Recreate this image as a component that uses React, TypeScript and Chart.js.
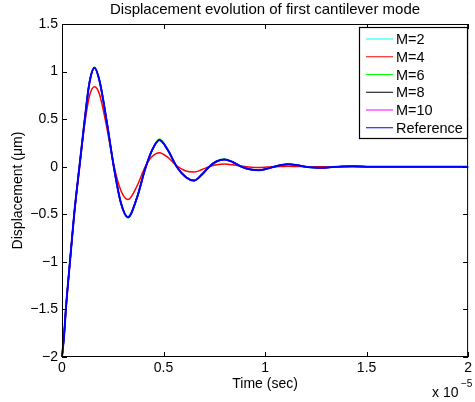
import React, { useEffect, useRef } from "react";
import { Chart, registerables } from "chart.js";

Chart.register(...registerables);

// time in units of 1e-5 s
const timeValues = [0, 0.01, 0.02, 0.04, 0.06, 0.09, 0.11, 0.135, 0.16, 0.185, 0.22, 0.255, 0.29, 0.325, 0.37, 0.41, 0.445, 0.48, 0.52, 0.565, 0.61, 0.65, 0.69, 0.725, 0.76, 0.8, 0.84, 0.885, 0.93, 0.97, 1.01, 1.045, 1.08, 1.115, 1.16, 1.2, 1.24, 1.28, 1.32, 1.36, 1.43, 1.52, 1.6, 1.8, 2.0];

const referenceValues = [-2, -1.78, -1.47, -0.98, -0.5, 0.08, 0.46, 0.88, 1.04, 0.9, 0.48, 0.0, -0.38, -0.53, -0.32, -0.02, 0.18, 0.28, 0.18, 0.0, -0.11, -0.145, -0.08, 0.0, 0.055, 0.077, 0.05, 0.0, -0.03, -0.037, -0.02, 0.0, 0.018, 0.025, 0.015, 0.0, -0.008, -0.01, -0.005, 0.0, 0.004, 0.0, 0.0, 0.0, 0.0];

const m2Values = [-2, -1.78, -1.47, -0.98, -0.5, 0.08, 0.46, 0.88, 1.04, 0.9, 0.48, 0.0, -0.38, -0.53, -0.32, -0.02, 0.18, 0.28, 0.18, 0.0, -0.11, -0.145, -0.08, 0.0, 0.055, 0.077, 0.05, 0.0, -0.03, -0.037, -0.02, 0.0, 0.018, 0.025, 0.015, 0.0, -0.008, -0.01, -0.005, 0.0, 0.004, 0.0, 0.0, 0.0, 0.0];

const m4Values = [-2, -1.78, -1.47, -0.98, -0.5, 0.06, 0.42, 0.74, 0.84, 0.76, 0.42, 0.02, -0.25, -0.345, -0.2, 0.0, 0.11, 0.148, 0.1, 0.01, -0.045, -0.055, -0.03, 0.0, 0.02, 0.028, 0.02, 0.005, -0.005, -0.008, -0.004, 0.0, 0.003, 0.004, 0.002, 0.0, 0.0, 0.0, 0.0, 0.0, 0.0, 0.0, 0.0, 0.0, 0.0];

const m6Values = [-2, -1.78, -1.47, -0.98, -0.5, 0.08, 0.46, 0.88, 1.045, 0.9, 0.48, 0.0, -0.38, -0.54, -0.32, -0.02, 0.18, 0.29, 0.18, 0.0, -0.11, -0.152, -0.08, 0.0, 0.055, 0.08, 0.05, 0.0, -0.03, -0.037, -0.02, 0.0, 0.018, 0.025, 0.015, 0.0, -0.008, -0.01, -0.005, 0.0, 0.004, 0.0, 0.0, 0.0, 0.0];

const m8Values = [-2, -1.78, -1.47, -0.98, -0.5, 0.08, 0.46, 0.88, 1.04, 0.9, 0.48, 0.0, -0.38, -0.53, -0.32, -0.02, 0.18, 0.28, 0.18, 0.0, -0.11, -0.145, -0.08, 0.0, 0.055, 0.077, 0.05, 0.0, -0.03, -0.037, -0.02, 0.0, 0.018, 0.025, 0.015, 0.0, -0.008, -0.01, -0.005, 0.0, 0.004, 0.0, 0.0, 0.0, 0.0];

const m10Values = [-2, -1.78, -1.47, -0.98, -0.5, 0.08, 0.46, 0.88, 1.04, 0.9, 0.48, 0.0, -0.38, -0.53, -0.32, -0.02, 0.18, 0.28, 0.18, 0.0, -0.11, -0.145, -0.08, 0.0, 0.055, 0.077, 0.05, 0.0, -0.03, -0.037, -0.02, 0.0, 0.018, 0.025, 0.015, 0.0, -0.008, -0.01, -0.005, 0.0, 0.004, 0.0, 0.0, 0.0, 0.0];

const seriesLabels = ["M=2", "M=4", "M=6", "M=8", "M=10", "Reference"];
const seriesColors = ["#00ffff", "#ff0000", "#00ff00", "#000000", "#ff00ff", "#0000ff"];
const seriesValues = [m2Values, m4Values, m6Values, m8Values, m10Values, referenceValues];

const xTickValues = [0, 0.5, 1, 1.5, 2];
const yTickValues = [-2, -1.5, -1, -0.5, 0, 0.5, 1, 1.5];

const FONT = '"Liberation Sans", Arial, Helvetica, sans-serif';

const fmt = (v: number) => {
  const s = String(Math.abs(v));
  return v < 0 ? "\u2212" + s : s;
};

const decorPlugin = {
  id: "decor",
  afterDraw(chart: any) {
    const ctx = chart.ctx;
    const { left, right, top, bottom } = chart.chartArea;
    const xs = chart.scales.x;
    const ys = chart.scales.y;
    ctx.save();
    // box
    ctx.strokeStyle = "#000";
    ctx.lineWidth = 1;
    ctx.strokeRect(left + 0.5, top + 0.5, right - left - 1, bottom - top - 1);
    // inward ticks
    const tl = 5;
    ctx.beginPath();
    xTickValues.forEach((v) => {
      const px = Math.round(xs.getPixelForValue(v)) + 0.5;
      ctx.moveTo(px, bottom);
      ctx.lineTo(px, bottom - tl);
      ctx.moveTo(px, top);
      ctx.lineTo(px, top + tl);
    });
    yTickValues.forEach((v) => {
      const py = Math.round(ys.getPixelForValue(v)) + 0.5;
      ctx.moveTo(left, py);
      ctx.lineTo(left + tl, py);
      ctx.moveTo(right, py);
      ctx.lineTo(right - tl, py);
    });
    ctx.stroke();

    // title
    ctx.fillStyle = "#000";
    ctx.textAlign = "center";
    ctx.textBaseline = "middle";
    ctx.font = `15px ${FONT}`;
    ctx.fillText("Displacement evolution of first cantilever mode", (left + right) / 2, 10);
    // x title
    ctx.font = `14px ${FONT}`;
    ctx.fillText("Time (sec)", (left + right) / 2, 384);
    // y title
    ctx.save();
    ctx.translate(18.5, (top + bottom) / 2);
    ctx.rotate(-Math.PI / 2);
    ctx.fillText("Displacement (\u03bcm)", 0, 0);
    ctx.restore();
    // exponent
    ctx.textAlign = "left";
    ctx.textBaseline = "alphabetic";
    ctx.font = `14px ${FONT}`;
    ctx.fillText("x 10", 432, 397);
    ctx.font = `10px ${FONT}`;
    ctx.fillText("\u22125", 461, 387);

    // legend
    const lx = 359.5, ly = 27.5, lw = 108, lh = 111;
    ctx.fillStyle = "#fff";
    ctx.fillRect(lx, ly, lw, lh);
    ctx.strokeStyle = "#000";
    ctx.lineWidth = 1.2;
    ctx.strokeRect(lx, ly, lw, lh);
    ctx.font = `14.5px ${FONT}`;
    ctx.textBaseline = "middle";
    chart.data.datasets.forEach((ds: any, i: number) => {
      const yy = 39 + i * 17.75;
      ctx.strokeStyle = ds.borderColor;
      ctx.lineWidth = 1;
      ctx.beginPath();
      ctx.moveTo(366, yy);
      ctx.lineTo(393, yy);
      ctx.stroke();
      ctx.fillStyle = "#000";
      ctx.textAlign = "left";
      ctx.fillText(ds.label, 396, yy + 1);
    });
    ctx.restore();
  },
};

export default function App() {
  const ref = useRef<HTMLCanvasElement | null>(null);
  useEffect(() => {
    if (!ref.current) return;
    const datasets = seriesLabels.map((label, i) => ({
      label,
      data: timeValues.map((t, j) => ({ x: t, y: seriesValues[i][j] })),
      borderColor: seriesColors[i],
      backgroundColor: seriesColors[i],
      borderWidth: i === 5 ? 2 : 1.5,
      pointRadius: 0,
      cubicInterpolationMode: "monotone" as const,
      fill: false,
      order: 5 - i,
      clip: 2,
    }));
    const chart = new Chart(ref.current, {
      type: "line",
      data: { datasets },
      options: {
        animation: false,
        responsive: false,
        devicePixelRatio: 1,
        layout: { padding: { left: 0, right: 4, top: 24, bottom: 0 } },
        plugins: {
          legend: { display: false },
          title: { display: false },
          tooltip: { enabled: false },
        },
        scales: {
          x: {
            type: "linear",
            min: 0,
            max: 2,
            afterFit: (s: any) => {
              s.height = 45;
            },
            afterBuildTicks: (s: any) => {
              s.ticks = xTickValues.map((v) => ({ value: v }));
            },
            grid: { display: false, drawTicks: false, tickLength: 0 },
            border: { display: false },
            ticks: {
              color: "#000",
              padding: 3,
              maxRotation: 0,
              font: { family: FONT, size: 14 },
              callback: (v: any) => fmt(Number(v)),
            },
          },
          y: {
            type: "linear",
            min: -2,
            max: 1.5,
            afterFit: (s: any) => {
              s.width = 62;
            },
            afterBuildTicks: (s: any) => {
              s.ticks = yTickValues.map((v) => ({ value: v }));
            },
            grid: { display: false, drawTicks: false, tickLength: 0 },
            border: { display: false },
            ticks: {
              color: "#000",
              padding: 4,
              font: { family: FONT, size: 14 },
              callback: (v: any) => fmt(Number(v)),
            },
          },
        },
      },
      plugins: [decorPlugin],
    });
    return () => chart.destroy();
  }, []);
  return (
    <div style={{ position: "fixed", left: 0, top: 0, width: 475, height: 402, background: "#fff" }}>
      <canvas ref={ref} width={475} height={402} style={{ width: 475, height: 402, display: "block" }} />
    </div>
  );
}
